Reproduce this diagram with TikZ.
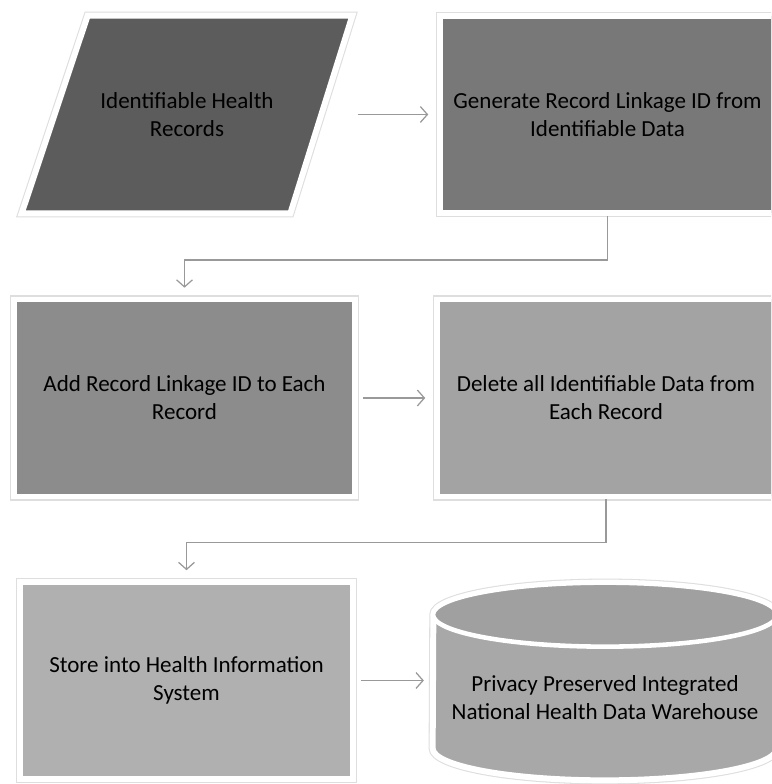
\documentclass[tikz,border=0pt]{standalone}
\usepackage{fontspec}
\setmainfont{Carlito}
\usetikzlibrary{arrows.meta,shadows,backgrounds}
\definecolor{toneA}{HTML}{5C5C5C}
\definecolor{toneB}{HTML}{787878}
\definecolor{toneC}{HTML}{8C8C8C}
\definecolor{toneD}{HTML}{A3A3A3}
\definecolor{toneE}{HTML}{B0B0B0}
\definecolor{toneF}{HTML}{A8A8A8}
\tikzset{
  skin/.style={drop shadow={shadow xshift=0.8pt, shadow yshift=-1.4pt, opacity=0.3},
    preaction={draw=black!13, line width=4.6pt}, draw=white, line width=3.4pt},
  words/.style={text=black, align=center, font=\fontsize{13.1}{16}\selectfont,
    minimum width=6.7cm, minimum height=3.94cm},
  card/.style={skin, words},
  flow/.style={draw=black!40, line width=0.7pt, -{Straight Barb[length=4pt,width=9pt]},
    shorten >=5pt},
}
\begin{document}
\begin{tikzpicture}[x=1cm,y=1cm]
\begin{scope}[on background layer]
\fill[white] (0,0) rectangle (15.42,15.68);
\end{scope}
\clip (0,0) rectangle (15.42,15.68);
\node[words, minimum width=6.6cm] (records) at (3.74,13.39) {Identifiable Health\\ Records};
\node[card, fill=toneB] (linkid) at (12.15,13.39) {Generate Record Linkage ID from\\ Identifiable Data};
\node[card, fill=toneC, minimum width=6.82cm] (addid) at (3.69,7.72) {Add Record Linkage ID to Each\\ Record};
\node[card, fill=toneD, minimum width=6.76cm] (delid) at (12.12,7.72) {Delete all Identifiable Data from\\ Each Record};
\node[card, fill=toneE, minimum width=6.66cm] (store) at (3.73,2.07) {Store into Health Information\\ System};
\node[words, minimum width=6.88cm, minimum height=3.3cm] (warehouse) at (12.1,1.73)
  {Privacy Preserved Integrated\\ National Health Data Warehouse};
\begin{scope}[on background layer]
\draw[skin, fill=toneA] ([xshift=1.32cm]records.north west) -- (records.north east)
  -- ([xshift=-1.24cm]records.south east) -- (records.south west) -- cycle;
\draw[skin, fill=toneF] ([yshift=0.64cm]warehouse.south west)
  arc[start angle=180, end angle=360, x radius=3.44cm, y radius=0.64cm]
  -- (warehouse.north east) arc[start angle=0, end angle=180, x radius=3.44cm, y radius=0.64cm] -- cycle;
\draw[draw=white, line width=2.6pt, fill=toneF!95!black] (warehouse.north) ellipse[x radius=3.44cm, y radius=0.64cm];
\end{scope}
\draw[flow, shorten <=3pt] (records.east) -- (linkid.west);
\draw[flow] (linkid.south) -- ++(0,-0.88) -| (addid.north);
\draw[flow, shorten <=3pt] (addid.east) -- (delid.west);
\draw[flow] (delid.south) -- ++(0,-0.86) -| (store.north);
\draw[flow, shorten <=3pt] (store.east) -- (store.east -| warehouse.west);
\end{tikzpicture}
\end{document}
